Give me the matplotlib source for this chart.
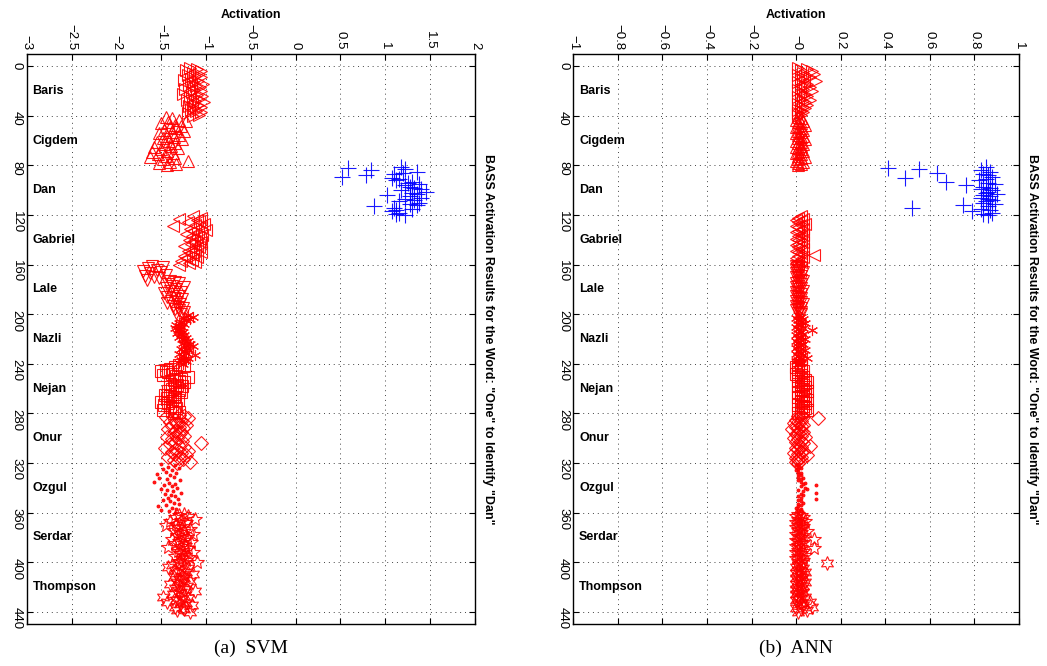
import numpy as np
import matplotlib.pyplot as plt

# speakers, 40 utterances each (sample index 1..440)
speakers = ['Baris', 'Cigdem', 'Dan', 'Gabriel', 'Lale', 'Nazli',
            'Nejan', 'Onur', 'Ozgul', 'Serdar', 'Thompson']
target = 'Dan'

# SVM activations
svm_baris = [-1.18, -1.10, -1.22, -1.05, -1.15, -1.08, -1.20, -1.12, -1.06, -1.17,
             -1.24, -1.09, -1.14, -1.03, -1.19, -1.11, -1.07, -1.23, -1.13, -1.05,
             -1.16, -1.26, -1.10, -1.04, -1.18, -1.08, -1.21, -1.12, -1.02, -1.15,
             -1.09, -1.19, -1.06, -1.13, -1.17, -1.11, -1.05, -1.20, -1.08, -1.14]
svm_cigdem = [-1.45, -1.38, -1.30, -1.22, -1.42, -1.50, -1.35, -1.28, -1.40, -1.33,
              -1.47, -1.25, -1.38, -1.52, -1.30, -1.44, -1.36, -1.48, -1.27, -1.41,
              -1.55, -1.34, -1.46, -1.39, -1.58, -1.31, -1.50, -1.43, -1.60, -1.37,
              -1.53, -1.45, -1.62, -1.35, -1.48, -1.20, -1.40, -1.52, -1.33, -1.44]
svm_dan = [1.18, 0.58, 1.22, 0.84, 1.35, 1.20, 1.10, 0.79, 0.52, 1.08,
           1.15, 1.12, 1.30, 1.25, 1.38, 1.22, 1.28, 1.32, 1.40, 1.18,
           1.45, 1.30, 1.35, 1.02, 1.28, 1.40, 1.22, 1.32, 1.15, 1.38,
           1.28, 1.35, 0.88, 1.10, 1.30, 1.12, 1.08, 1.15, 1.12, 1.22]
svm_gabriel = [-1.15, -1.05, -1.30, -1.10, -1.08, -1.20, -1.02, -1.12, -1.37, -1.06,
               -1.18, -1.00, -1.14, -1.09, -1.22, -1.04, -1.16, -1.11, -1.07, -1.19,
               -1.13, -1.05, -1.17, -1.10, -1.24, -1.08, -1.15, -1.12, -1.20, -1.06,
               -1.18, -1.14, -1.25, -1.10, -1.22, -1.16, -1.28, -1.12, -1.19, -1.30]
svm_lale = [-1.60, -1.48, -1.65, -1.55, -1.70, -1.50, -1.62, -1.45, -1.68, -1.58,
            -1.52, -1.66, -1.40, -1.35, -1.30, -1.42, -1.38, -1.25, -1.45, -1.33,
            -1.40, -1.28, -1.47, -1.36, -1.30, -1.43, -1.34, -1.27, -1.39, -1.32,
            -1.44, -1.29, -1.37, -1.31, -1.26, -1.35, -1.30, -1.24, -1.33, -1.28]
svm_nazli = [-1.20, -1.15, -1.25, -1.18, -1.22, -1.28, -1.30, -1.24, -1.33, -1.27,
             -1.35, -1.29, -1.31, -1.26, -1.32, -1.28, -1.25, -1.30, -1.22, -1.27,
             -1.24, -1.20, -1.26, -1.18, -1.23, -1.15, -1.21, -1.28, -1.19, -1.25,
             -1.22, -1.30, -1.12, -1.26, -1.20, -1.24, -1.28, -1.22, -1.30, -1.26]
svm_nejan = [-1.30, -1.25, -1.35, -1.40, -1.45, -1.50, -1.42, -1.38, -1.48, -1.33,
             -1.20, -1.28, -1.36, -1.30, -1.25, -1.40, -1.32, -1.27, -1.35, -1.38,
             -1.30, -1.42, -1.28, -1.34, -1.46, -1.40, -1.36, -1.44, -1.31, -1.38,
             -1.50, -1.42, -1.47, -1.35, -1.40, -1.33, -1.48, -1.38, -1.30, -1.36]
svm_onur = [-1.30, -1.25, -1.45, -1.20, -1.35, -1.28, -1.40, -1.32, -1.22, -1.38,
            -1.30, -1.26, -1.42, -1.34, -1.28, -1.36, -1.30, -1.24, -1.44, -1.32,
            -1.38, -1.27, -1.35, -1.06, -1.40, -1.30, -1.25, -1.46, -1.33, -1.20,
            -1.38, -1.28, -1.34, -1.22, -1.42, -1.30, -1.26, -1.36, -1.18, -1.32]
svm_ozgul = [-1.50, -1.35, -1.42, -1.30, -1.48, -1.38, -1.45, -1.33, -1.55, -1.40,
             -1.36, -1.52, -1.44, -1.29, -1.58, -1.41, -1.34, -1.47, -1.38, -1.32,
             -1.50, -1.43, -1.37, -1.28, -1.46, -1.39, -1.35, -1.42, -1.31, -1.48,
             -1.40, -1.36, -1.30, -1.45, -1.53, -1.38, -1.33, -1.50, -1.41, -1.35]
svm_serdar = [-1.25, -1.30, -1.20, -1.35, -1.12, -1.28, -1.40, -1.22, -1.33, -1.45,
              -1.26, -1.31, -1.18, -1.36, -1.24, -1.29, -1.15, -1.32, -1.27, -1.21,
              -1.38, -1.25, -1.30, -1.17, -1.34, -1.23, -1.28, -1.42, -1.20, -1.26,
              -1.31, -1.14, -1.29, -1.24, -1.35, -1.19, -1.27, -1.22, -1.30, -1.10]
svm_thompson = [-1.30, -1.38, -1.25, -1.42, -1.20, -1.35, -1.28, -1.22, -1.33, -1.15,
                -1.27, -1.36, -1.24, -1.30, -1.18, -1.32, -1.26, -1.40, -1.21, -1.29,
                -1.34, -1.23, -1.12, -1.28, -1.31, -1.37, -1.25, -1.48, -1.20, -1.27,
                -1.33, -1.44, -1.22, -1.29, -1.16, -1.35, -1.26, -1.24, -1.32, -1.18]

# ANN activations
ann_baris = [0.01, 0.05, 0.02, 0.07, 0.03, 0.08, 0.01, 0.04, 0.06, 0.02,
             0.03, 0.09, 0.01, 0.05, 0.02, 0.04, 0.06, 0.03, 0.01, 0.07,
             0.02, 0.04, 0.03, 0.05, 0.01, 0.02, 0.06, 0.03, 0.04, 0.01,
             0.05, 0.02, 0.03, 0.04, 0.01, 0.02, 0.03, 0.01, 0.02, 0.01]
ann_cigdem = [0.01, 0.02, 0.00, 0.03, 0.01, 0.02, 0.04, 0.01, 0.00, 0.02,
              0.03, 0.01, 0.02, 0.00, 0.01, 0.03, 0.02, 0.01, 0.04, 0.00,
              0.02, 0.01, 0.03, 0.02, 0.00, 0.01, 0.02, 0.03, 0.01, 0.00,
              0.02, 0.01, 0.04, 0.02, 0.01, 0.00, 0.03, 0.01, 0.02, 0.01]
ann_dan = [0.85, 0.41, 0.55, 0.83, 0.87, 0.63, 0.84, 0.86, 0.88, 0.49,
           0.85, 0.82, 0.67, 0.86, 0.89, 0.76, 0.84, 0.87, 0.83, 0.88,
           0.86, 0.85, 0.90, 0.84, 0.87, 0.83, 0.86, 0.88, 0.85, 0.84,
           0.89, 0.75, 0.86, 0.52, 0.83, 0.87, 0.79, 0.88, 0.84, 0.86]
ann_gabriel = [0.02, 0.01, 0.03, 0.00, 0.02, 0.01, 0.04, 0.02, 0.00, 0.01,
               0.03, 0.02, 0.01, 0.00, 0.02, 0.03, 0.01, 0.02, 0.00, 0.01,
               0.02, 0.03, 0.01, 0.00, 0.02, 0.01, 0.03, 0.02, 0.00, 0.01,
               0.02, 0.08, 0.01, 0.03, 0.00, 0.02, 0.01, 0.02, 0.00, 0.01]
ann_lale = [0.00, 0.01, 0.02, 0.00, 0.01, 0.03, 0.00, 0.01, 0.02, 0.00,
            0.01, 0.02, 0.03, 0.01, 0.00, 0.02, 0.01, 0.00, 0.02, 0.01,
            0.03, 0.00, 0.01, 0.02, 0.00, 0.01, 0.02, 0.01, 0.00, 0.02,
            0.01, 0.03, 0.00, 0.01, 0.02, 0.01, 0.00, 0.02, 0.01, 0.02]
ann_nazli = [0.01, 0.02, 0.00, 0.03, 0.01, 0.02, 0.04, 0.01, 0.02, 0.00,
             0.03, 0.01, 0.07, 0.02, 0.01, 0.03, 0.00, 0.02, 0.01, 0.04,
             0.02, 0.00, 0.01, 0.03, 0.02, 0.01, 0.00, 0.02, 0.04, 0.01,
             0.02, 0.00, 0.03, 0.01, 0.05, 0.02, 0.01, 0.00, 0.02, 0.01]
ann_nejan = [0.01, 0.02, 0.00, 0.01, 0.02, 0.03, 0.01, 0.00, 0.02, 0.01,
             0.03, 0.02, 0.04, 0.01, 0.05, 0.02, 0.03, 0.01, 0.04, 0.02,
             0.03, 0.05, 0.01, 0.02, 0.04, 0.03, 0.01, 0.02, 0.05, 0.03,
             0.02, 0.04, 0.01, 0.03, 0.02, 0.04, 0.05, 0.03, 0.02, 0.01]
ann_onur = [0.02, 0.01, 0.03, 0.10, 0.00, 0.02, 0.01, -0.01, 0.03, 0.02,
            0.00, 0.01, -0.02, 0.02, 0.03, 0.01, 0.00, 0.02, 0.04, -0.01,
            0.01, 0.02, 0.00, 0.03, 0.01, 0.06, 0.02, 0.00, 0.01, 0.03,
            0.02, -0.01, 0.01, 0.05, 0.02, 0.00, 0.01, 0.02, 0.00, 0.01]
ann_ozgul = [0.01, 0.00, 0.01, 0.02, 0.01, 0.00, 0.01, 0.02, 0.01, 0.02,
             0.01, 0.03, 0.02, 0.01, 0.02, 0.04, 0.03, 0.09, 0.02, 0.04,
             0.05, 0.01, 0.03, 0.09, 0.02, 0.03, 0.01, 0.02, 0.09, 0.01,
             0.02, 0.03, 0.01, 0.02, 0.01, 0.00, 0.02, 0.01, 0.02, 0.01]
ann_serdar = [0.01, 0.02, 0.00, 0.03, 0.01, 0.02, 0.04, 0.00, 0.02, 0.01,
              0.03, 0.00, 0.02, 0.01, 0.05, 0.02, 0.00, 0.03, 0.01, 0.02,
              0.08, 0.00, 0.01, 0.03, 0.02, 0.01, 0.00, 0.02, 0.08, 0.01,
              0.03, 0.00, 0.02, 0.04, 0.01, 0.02, 0.00, 0.03, 0.01, 0.02]
ann_thompson = [0.14, 0.01, 0.02, 0.00, 0.03, 0.01, 0.02, 0.04, 0.00, 0.02,
                0.01, 0.03, 0.00, 0.02, 0.01, 0.04, 0.02, 0.00, 0.03, 0.01,
                0.02, 0.00, 0.01, 0.03, 0.02, 0.00, 0.01, 0.04, 0.02, 0.01,
                0.00, 0.06, 0.02, 0.01, 0.03, 0.07, 0.00, 0.02, 0.05, 0.01]

svm_data = [svm_baris, svm_cigdem, svm_dan, svm_gabriel, svm_lale, svm_nazli,
            svm_nejan, svm_onur, svm_ozgul, svm_serdar, svm_thompson]
ann_data = [ann_baris, ann_cigdem, ann_dan, ann_gabriel, ann_lale, ann_nazli,
            ann_nejan, ann_onur, ann_ozgul, ann_serdar, ann_thompson]

# one marker per speaker (plot is rotated, so triangles point sideways)
markers = ['>', '^', '+', '<', 'v', (6, 2, 0), 's', 'D', '.', '*', (6, 1, 0)]
msizes = [9, 9, 11, 9, 9, 8, 8, 7, 4, 10, 10]

plt.rcParams['font.family'] = ['Liberation Sans', 'DejaVu Sans']

fig = plt.figure(figsize=(10.47, 6.66), dpi=100)
ax1 = fig.add_axes([0.0255, 0.063, 0.428, 0.856])
ax2 = fig.add_axes([0.5476, 0.063, 0.4257, 0.856])

panels = [(ax1, svm_data, (-3, 2), np.arange(-3, 2.01, 0.5), '(a)  SVM'),
          (ax2, ann_data, (-1, 1), np.arange(-1, 1.01, 0.2), '(b)  ANN')]

for ax, data, xlim, xticks, caption in panels:
    for k, name in enumerate(speakers):
        idx = np.arange(1, len(data[k]) + 1) + 40 * k
        col = 'blue' if name == target else 'red'
        ax.plot(data[k], idx, linestyle='none', marker=markers[k],
                markersize=msizes[k], markerfacecolor='none' if markers[k] != '.' else col,
                markeredgecolor=col, markeredgewidth=0.8, alpha=0.9)
        ax.text(xlim[0] + 0.013 * (xlim[1] - xlim[0]), 40 * k + 20, name,
                fontsize=9, fontweight='bold', va='center', ha='left')

    ax.set_xlim(*xlim)
    ax.set_ylim(450, -10)
    ax.set_xticks(xticks)
    ax.set_xticklabels(['{:g}'.format(round(t, 1)).replace('-', '\u2212') for t in xticks])
    ax.set_yticks(np.arange(0, 441, 40))
    ax.xaxis.tick_top()
    ax.xaxis.set_label_position('top')
    ax.tick_params(axis='both', which='both', direction='in', length=4,
                   top=True, bottom=True, left=True, right=True, labelsize=9.5)
    ax.tick_params(axis='x', labelrotation=-90, pad=3)
    ax.tick_params(axis='y', labelrotation=-90, pad=3)
    ax.grid(True, linestyle=(0, (1, 4)), color='#444444', linewidth=0.7)
    for s in ax.spines.values():
        s.set_linewidth(1.0)
    ax.set_xlabel('Activation', fontsize=9, fontweight='bold', labelpad=4)
    ax.yaxis.set_label_position('right')
    ax.set_ylabel('BASS Activation Results for the Word: "One" to Identify "Dan"',
                  fontsize=9, fontweight='bold', rotation=-90, labelpad=14)
    ax.text(0.5, -0.028, caption, transform=ax.transAxes, ha='center', va='top',
            fontsize=14, family='Liberation Serif')

fig.savefig('out.png', dpi=100)
